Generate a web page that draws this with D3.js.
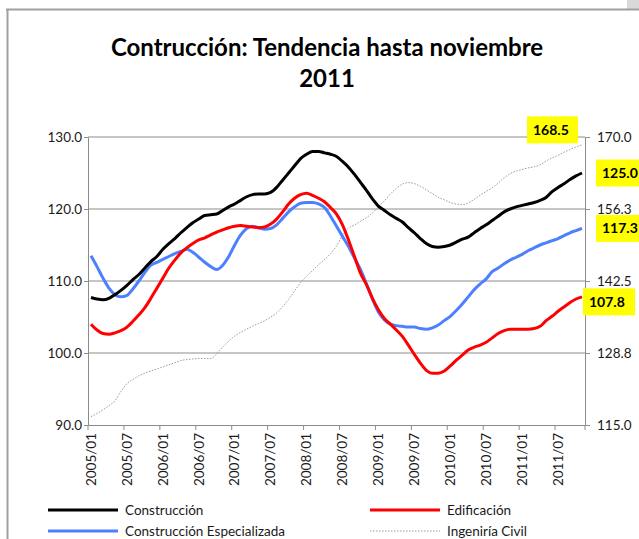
<!DOCTYPE html>
<html>
<head>
<meta charset="utf-8">
<script src="https://cdn.jsdelivr.net/npm/d3@7/dist/d3.min.js"></script>
<style>
  body { margin: 0; background: #fff; }
  svg text { font-family: Lato, 'Open Sans', sans-serif; fill: #1a1a1a; }
</style>
</head>
<body>
<div id="chart"></div>
<script>
(function() {
  // SVG size
  var width = 639;
  var height = 539;

  // plot area
  var plot = { left: 88, right: 585, top: 137, bottom: 425 };

  // months 2005/01 .. 2011/11
  var months = [];
  for (var yr = 2005; yr <= 2011; yr++) {
    for (var mo = 1; mo <= 12; mo++) {
      if (yr === 2011 && mo > 11) break;
      months.push(yr + '/' + (mo < 10 ? '0' + mo : mo));
    }
  }

  // series (monthly trend)
  var series = [
    {
      name: 'Construcción', color: '#000000', width: 3, axis: 'left', dash: null,
      values: [107.7, 107.5, 107.4, 107.6, 108.1, 108.7, 109.4, 110.2, 110.9, 111.8, 112.7, 113.4,
        114.4, 115.2, 115.9, 116.7, 117.4, 118.1, 118.6, 119.1, 119.2, 119.3, 119.8, 120.3,
        120.7, 121.2, 121.7, 122.0, 122.1, 122.1, 122.3, 123.0, 124.0, 125.0, 126.0, 127.0,
        127.6, 128.0, 128.0, 127.8, 127.6, 127.3, 126.6, 125.8, 124.8, 123.7, 122.6, 121.4,
        120.4, 119.8, 119.2, 118.7, 118.2, 117.4, 116.7, 115.9, 115.2, 114.8, 114.7, 114.8,
        115.0, 115.4, 115.8, 116.1, 116.7, 117.3, 117.8, 118.4, 119.0, 119.6, 120.0, 120.3,
        120.5, 120.7, 120.9, 121.2, 121.6, 122.4, 123.0, 123.5, 124.1, 124.6, 125.0]
    },
    {
      name: 'Edificación', color: '#ff0000', width: 3, axis: 'left', dash: null,
      values: [104.0, 103.2, 102.7, 102.6, 102.8, 103.1, 103.6, 104.4, 105.3, 106.3, 107.6, 109.0,
        110.4, 111.8, 112.9, 113.9, 114.6, 115.2, 115.7, 116.0, 116.4, 116.8, 117.1, 117.4,
        117.6, 117.7, 117.6, 117.5, 117.4, 117.5, 117.9, 118.6, 119.6, 120.7, 121.5, 122.0,
        122.2, 121.9, 121.5, 121.0, 120.2, 119.3, 117.8, 115.7, 113.4, 111.1, 109.5, 107.6,
        106.0, 104.8, 104.0, 103.2, 102.3, 101.1, 99.8, 98.6, 97.6, 97.2, 97.2, 97.5,
        98.2, 99.0, 99.7, 100.4, 100.8, 101.1, 101.5, 102.1, 102.7, 103.1, 103.3, 103.3,
        103.3, 103.3, 103.4, 103.7, 104.5, 105.1, 105.8, 106.4, 107.0, 107.5, 107.8]
    },
    {
      name: 'Construcción Especializada', color: '#4d80ff', width: 3, axis: 'left', dash: null,
      values: [113.5, 112.0, 110.4, 109.0, 108.1, 107.8, 108.0, 108.9, 110.0, 111.2, 112.2, 112.6,
        113.0, 113.4, 113.8, 114.1, 114.4, 114.0, 113.3, 112.6, 112.0, 111.6, 112.2, 113.4,
        115.0, 116.4, 117.3, 117.6, 117.4, 117.2, 117.3, 117.8, 118.7, 119.6, 120.3, 120.8,
        120.9, 120.9, 120.7, 120.2, 119.0, 117.6, 116.2, 114.8, 113.2, 111.6, 109.6, 107.5,
        105.7, 104.6, 104.0, 103.8, 103.7, 103.6, 103.6, 103.4, 103.3, 103.5, 103.9, 104.5,
        105.1, 105.9, 106.8, 107.8, 108.8, 109.6, 110.3, 111.3, 111.8, 112.4, 112.9, 113.3,
        113.7, 114.2, 114.6, 115.0, 115.3, 115.6, 115.9, 116.3, 116.7, 117.0, 117.3]
    },
    {
      name: 'Ingeniría Civil', color: '#9a9a9a', width: 1, axis: 'right', dash: '1.5,1.5',
      values: [116.6, 117.2, 117.9, 118.7, 119.6, 121.4, 122.9, 123.7, 124.4, 124.9, 125.3, 125.7,
        126.1, 126.5, 126.9, 127.3, 127.5, 127.6, 127.7, 127.7, 127.7, 128.6, 129.9, 131.0,
        132.0, 132.7, 133.3, 133.9, 134.4, 134.9, 135.6, 136.4, 137.6, 139.0, 140.6, 142.2,
        143.4, 144.5, 145.6, 146.6, 147.7, 149.2, 151.2, 152.6, 153.2, 153.9, 154.6, 155.5,
        156.7, 157.8, 159.1, 160.2, 161.0, 161.3, 161.1, 160.6, 159.9, 159.2, 158.5, 158.0,
        157.5, 157.2, 157.1, 157.4, 158.1, 158.9, 159.6, 160.3, 161.2, 162.2, 163.0, 163.5,
        163.8, 164.1, 164.3, 164.7, 165.4, 166.0, 166.5, 167.1, 167.6, 168.1, 168.5]
    }
  ];

  // yellow end-value labels: series index, box x, box width, offset of box centre from point
  var endLabels = [
    { s: 3, x: 527, w: 51, dy: -15 },
    { s: 0, x: 596, w: 50, dy: 0 },
    { s: 2, x: 596, w: 50, dy: 0 },
    { s: 1, x: 583, w: 52, dy: 5 }
  ];

  var svg = d3.select('#chart').append('svg')
    .attr('width', width)
    .attr('height', height);

  // chart frame (top and left border of the embedded chart)
  svg.append('rect').attr('x', 627).attr('y', 0).attr('width', 12).attr('height', 9).attr('fill', '#d9d9d9');
  svg.append('line').attr('x1', 6).attr('x2', 639).attr('y1', 9.5).attr('y2', 9.5)
    .attr('stroke', '#a0a0a0').attr('stroke-width', 2);
  svg.append('line').attr('x1', 7.5).attr('x2', 7.5).attr('y1', 9).attr('y2', height)
    .attr('stroke', '#a0a0a0').attr('stroke-width', 2);

  // title
  var title = svg.append('text')
    .attr('text-anchor', 'middle')
    .style('font-size', '24px')
    .style('font-weight', 'bold')
    .style('fill', '#000');
  title.append('tspan').attr('x', 327).attr('y', 56).text('Contrucción: Tendencia hasta noviembre');
  title.append('tspan').attr('x', 327).attr('y', 87).text('2011');

  // scales
  var x = d3.scaleBand().domain(d3.range(months.length)).range([plot.left, plot.right]);
  var bw = x.bandwidth();
  var yL = d3.scaleLinear().domain([90, 130]).range([plot.bottom, plot.top]);
  var yR = d3.scaleLinear().domain([115, 170]).range([plot.bottom, plot.top]);

  // horizontal gridlines
  svg.append('g').selectAll('line').data([100, 110, 120, 130]).enter().append('line')
    .attr('x1', plot.left).attr('x2', plot.right)
    .attr('y1', function(d) { return yL(d); })
    .attr('y2', function(d) { return yL(d); })
    .attr('stroke', '#8c8c8c').attr('stroke-width', 1);

  // left axis
  var gL = svg.append('g')
    .attr('transform', 'translate(' + plot.left + ',0)')
    .call(d3.axisLeft(yL).tickValues([90, 100, 110, 120, 130]).tickFormat(d3.format('.1f'))
      .tickSizeInner(4).tickSizeOuter(0).tickPadding(2));

  // right axis
  var gR = svg.append('g')
    .attr('transform', 'translate(' + plot.right + ',0)')
    .call(d3.axisRight(yR).tickValues([115, 128.75, 142.5, 156.25, 170]).tickFormat(d3.format('.1f'))
      .tickSizeInner(5).tickSizeOuter(0).tickPadding(7));

  // bottom axis: labels every 6 months, ticks at category boundaries
  var gB = svg.append('g')
    .attr('transform', 'translate(0,' + plot.bottom + ')')
    .call(d3.axisBottom(x)
      .tickValues(d3.range(0, months.length, 6))
      .tickFormat(function(i) { return months[i]; })
      .tickSizeInner(5).tickSizeOuter(0));
  gB.selectAll('.tick line').attr('x1', -bw / 2).attr('x2', -bw / 2);
  gB.selectAll('.tick text')
    .attr('transform', 'rotate(-90)')
    .attr('x', -8).attr('y', 0).attr('dy', '0.35em')
    .attr('text-anchor', 'end');
  gB.append('line').attr('x1', plot.right).attr('x2', plot.right).attr('y1', 0).attr('y2', 5)
    .attr('stroke', '#8c8c8c');

  [gL, gR, gB].forEach(function(g) {
    g.selectAll('.domain').attr('stroke', '#8c8c8c');
    g.selectAll('.tick line').attr('stroke', '#8c8c8c');
    g.selectAll('.tick text').style('font-size', '13.5px').style('font-family', 'Lato, sans-serif').attr('fill', '#1a1a1a');
  });

  // lines (dotted series first so it sits behind)
  var line = function(s) {
    var yy = s.axis === 'left' ? yL : yR;
    return d3.line()
      .x(function(d, i) { return x(i) + bw / 2; })
      .y(function(d) { return yy(d); })
      .curve(d3.curveMonotoneX)(s.values);
  };
  var order = [series[3], series[2], series[1], series[0]];
  svg.append('g').selectAll('path').data(order).enter().append('path')
    .attr('d', line)
    .attr('fill', 'none')
    .attr('stroke', function(d) { return d.color; })
    .attr('stroke-width', function(d) { return d.width; })
    .attr('stroke-dasharray', function(d) { return d.dash; })
    .attr('stroke-linejoin', 'round');

  // end-value labels
  var lab = svg.append('g').selectAll('g').data(endLabels).enter().append('g');
  lab.each(function(d) {
    var s = series[d.s];
    var v = s.values[s.values.length - 1];
    var yy = (s.axis === 'left' ? yL : yR)(v) + d.dy;
    var g = d3.select(this);
    g.append('rect').attr('x', d.x).attr('y', yy - 13.5).attr('width', d.w).attr('height', 27)
      .attr('fill', '#ffff00');
    g.append('text').attr('x', d.x + 6).attr('y', yy).attr('dy', '0.35em')
      .style('font-size', '14px').style('font-weight', 'bold').style('fill', '#000')
      .text(d3.format('.1f')(v));
  });

  // legend
  var legend = [
    { s: 0, x: 48, y: 510 },
    { s: 1, x: 370, y: 510 },
    { s: 2, x: 48, y: 531 },
    { s: 3, x: 370, y: 531 }
  ];
  var lg = svg.append('g').selectAll('g').data(legend).enter().append('g')
    .attr('transform', function(d) { return 'translate(' + d.x + ',' + d.y + ')'; });
  lg.append('line')
    .attr('x1', 0).attr('x2', 70)
    .attr('stroke', function(d) { return series[d.s].color; })
    .attr('stroke-width', function(d) { return series[d.s].width === 1 ? 1 : 3; })
    .attr('stroke-dasharray', function(d) { return series[d.s].dash; });
  lg.append('text')
    .attr('x', 77).attr('dy', '0.35em')
    .style('font-size', '13.5px')
    .text(function(d) { return series[d.s].name; });
})();
</script>
</body>
</html>
